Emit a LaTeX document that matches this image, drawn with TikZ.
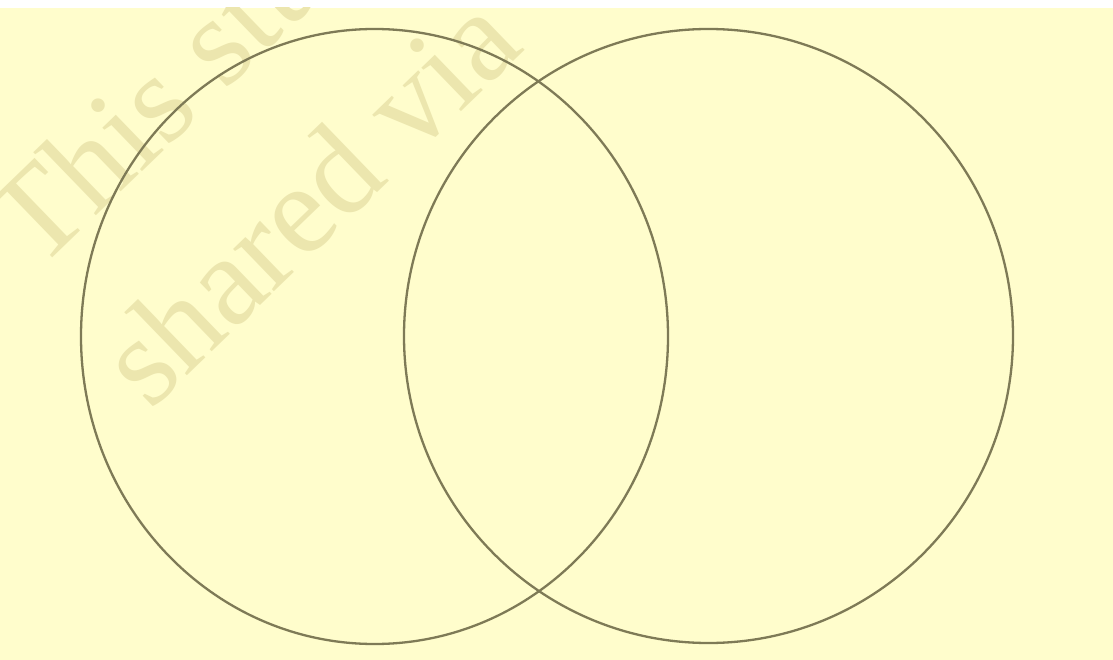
\documentclass[tikz,border=0pt]{standalone}
\usepackage{fontspec}
\setmainfont{Liberation Serif}
\definecolor{bgyellow}{HTML}{FFFDCC}
\definecolor{ringcol}{HTML}{7E7A56}
\definecolor{wmark}{HTML}{ECE6AE}
\tikzset{
  ring/.style={draw=ringcol, line width=2.3pt},
  watermark/.style={text=wmark, font=\fontsize{128}{128}\selectfont, rotate=44, anchor=base west, inner sep=0pt}
}
\begin{document}
\begin{tikzpicture}[x=1pt,y=-1pt]
\useasboundingbox (0,0) rectangle (1113,660);
\fill[white] (0,0) rectangle (1113,660);
\fill[bgyellow] (0,8) rectangle (1113,660);
\begin{scope}
\clip (0,8) rectangle (1113,660);
\node[watermark] (wm1) at (38,272) {This study source};
\node[watermark] (wm2) at (150,412) {shared via};
\end{scope}
\draw[ring] (374.5,336.5) ellipse [x radius=293.5pt, y radius=307.5pt];
\draw[ring] (708.5,336) ellipse [x radius=304.5pt, y radius=307pt];
\end{tikzpicture}
\end{document}
